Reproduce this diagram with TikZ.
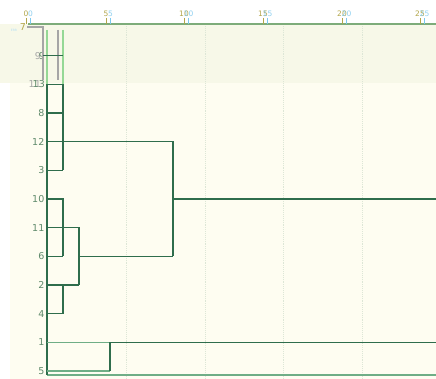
\documentclass[tikz,border=0pt]{standalone}
\usepackage{fontspec}
\setmainfont{DejaVu Sans}
\usepackage{tikz}
\usetikzlibrary{calc}

\definecolor{dgreen}{HTML}{2F6D4C}
\definecolor{mgreen}{HTML}{6FAE86}
\definecolor{lgreen}{HTML}{95D895}
\definecolor{ghost}{HTML}{A6A6A6}
\definecolor{olive}{HTML}{B3A64A}
\definecolor{sky}{HTML}{7CC8EE}
\definecolor{cream}{HTML}{FEFDF1}
\definecolor{tint}{HTML}{F7F8E8}
\definecolor{lbl}{HTML}{5F8A6B}
\definecolor{grid}{HTML}{DDE6D6}

\begin{document}
\begin{tikzpicture}[x=1pt, y=-1pt,
      lnk/.style={draw=dgreen, line width=1.4pt},
      pale/.style={draw=mgreen, line width=1.3pt},
      ghl/.style={draw=lgreen, line width=1.2pt},
      ggr/.style={draw=ghost, line width=1.2pt},
      lab/.style={anchor=east, inner sep=0pt, text=lbl, font=\fontsize{9.5}{10}\selectfont},
      tck/.style={anchor=south, inner sep=0pt, font=\fontsize{7.5}{8}\selectfont},
      gridl/.style={draw=grid, densely dotted, line width=0.9pt}]
      \useasboundingbox (0,0) rectangle (436,379);
      % backgrounds
      \fill[white] (0,0) rectangle (436,379);
      \fill[cream] (10,24) rectangle (436,379);
      \fill[tint] (0,24) rectangle (436,83);
      \foreach \gx in {126,205,283,362} \draw[gridl] (\gx,26) -- (\gx,379);
      % axis (doubled)
      \draw[draw=mgreen!80!olive, line width=1.2pt] (28,24) -- (436,24);
      \foreach \v/\ax in {0/26,5/106,10/184,15/263,20/342,25/420}{
        \draw[olive, line width=1pt] (\ax,18) -- (\ax,24);
        \draw[sky, line width=1pt] (\ax+4,18) -- (\ax+4,24);
        \node[tck, text=olive] at (\ax,16.5) {\v};
        \node[tck, text=sky, opacity=0.85] at (\ax+4.5,16.5) {\v};
      }
      \node[inner sep=0pt, text=sky!60, font=\fontsize{3}{3}\selectfont] at (14,30) {ERR};
      % leaves
      \foreach \n/\y in {7/27,9/55.7,13/84.3,8/113,12/141.7,3/170.3,10/199,11/227.7,6/256.3,2/285,4/313.7,1/342.3,5/371}{
        \coordinate (p\n) at (47,\y);
      }
      \node[lab, text=olive] (n7) at (26,27) {7};
      \node[lab, text=ghost] (n9b) at (41,55.7) {9};
      \node[lab] (n9) at (45,55.7) {9};
      \node[lab, text=ghost] (n11b) at (41,84.3) {11};
      \node[lab] (n13) at (45,84.3) {13};
      \foreach \n in {8,12,3,10,11,6,2,4,1,5}{
        \node[lab] (n\n) at ($(p\n)+(-2.5,0)$) {\n};
      }
      % joins
      \coordinate (ka) at (63,84.3);  \coordinate (kb) at (63,170.3);
      \coordinate (kc) at (173,141.7); \coordinate (kd) at (173,256.3);
      \coordinate (ke) at (63,199);   \coordinate (kf) at (79,227.7);
      \coordinate (kg) at (63,313.7); \coordinate (kh) at (110,342.3);
      \coordinate (q9) at (43,55.7);  \coordinate (rt) at (436,199);
      \coordinate (ri) at (436,342.3);
      \coordinate (bl) at (47,375);   \coordinate (br) at (436,375);
      % ghost frame
      \draw[ggr] (27,27) -- (43,27) -- (43,80);
      \draw[ggr] (58,30) -- (58,80);
      \draw[ghl] (47,30) -- (p13);
      \draw[ghl] (63,30) -- (ka);
      % tree
      \draw[pale] (bl) -- (br);
      \draw[lnk] (p13) -- (bl);
      \draw[lnk] (q9) -- (q9 -| ka);
      \draw[lnk] (p13) -- (ka) (p8) -- (p8 -| ka) (p3) -- (kb) (ka) -- (kb);
      \draw[lnk] (p12) -- (kc) -- (kd);
      \draw[lnk] (kc |- rt) -- (rt);
      \draw[lnk] (p10) -- (ke) -- (ke |- p6) (p6) -- (p6 -| ke);
      \draw[lnk] (p11) -- (kf) -- (kf |- p2) (p2) -- (p2 -| kf);
      \draw[lnk] (kf |- kd) -- (kd);
      \draw[lnk] (p4) -- (kg) -- (kg |- p2);
      \draw[pale] (p1) -- (kh) (p5) -- (p5 -| kh);
      \draw[lnk] (kh) -- (ri) (kh) -- (kh |- p5);
    \end{tikzpicture}
\end{document}
